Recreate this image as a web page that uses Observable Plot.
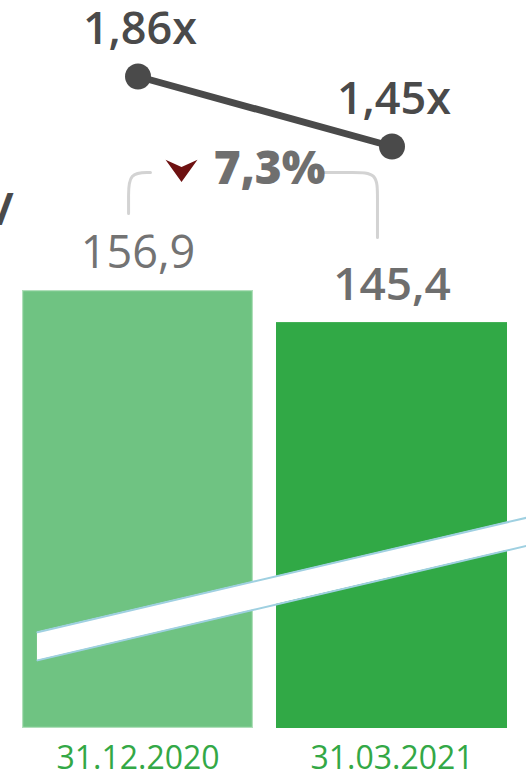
<!DOCTYPE html>
<html><head><meta charset="utf-8">
<script src="https://cdn.jsdelivr.net/npm/d3@7"></script>
<script src="https://cdn.jsdelivr.net/npm/@observablehq/plot@0.6"></script>
<style>
html,body{margin:0;padding:0;background:#fff;}
#chart{position:relative;width:526px;height:783px;overflow:hidden;background:#fff;}
#chart svg{position:absolute;left:0;top:0;}
</style></head><body><div id="chart"></div>
<script>
// ---- data ----
const dates = ["31.12.2020", "31.03.2021"];
const values = [156.9, 145.4];
const valueLabels = ["156,9", "145,4"];
const ratios = [1.86, 1.45];
const ratioLabels = ["1,86x", "1,45x"];
const changeLabels = ["7,3%"];
// axis-break band (period index, bar value units)
const breakT = [-0.397, 1.525];
const breakTop = [34.5, 75.5];
const breakBottom = [24.4, 65.4];
// change bracket (period index, bar value units)
const bracketLeftT = [-0.039, -0.039, -0.039, 0.047];
const bracketLeftV = [184.5, 190.6, 199.2, 199.2];
const bracketRightT = [0.723, 0.845, 0.939, 0.939, 0.939];
const bracketRightV = [199.2, 199.2, 199.2, 190.6, 175.9];
const markerT = [0.169];
const markerV = [199.7];
const labelT = [0.515];
const labelV = [195.2];
const clippedGlyph = ["/"];
const clippedT = [-0.49];
const clippedV = [180.2];

// ---- tables ----
const bars = dates.map((date, i) => ({date, value: values[i], label: valueLabels[i]}));
const ratioRows = dates.map((date, i) => ({date, ratio: ratios[i], label: ratioLabels[i]}));
const band = breakT.map((t, i) => ({t, top: breakTop[i], bottom: breakBottom[i]}));
const bracketL = bracketLeftT.map((t, i) => ({t, v: bracketLeftV[i]}));
const bracketR = bracketRightT.map((t, i) => ({t, v: bracketRightV[i]}));
const marker = markerT.map((t, i) => ({t, v: markerV[i]}));
const changeRow = changeLabels.map((label, i) => ({label, t: labelT[i], v: labelV[i]}));
const clipped = clippedGlyph.map((g, i) => ({g, t: clippedT[i], v: clippedV[i]}));

const W = 526, H = 783;
const font = "'Open Sans', sans-serif";
const baseStyle = {background: "transparent", fontFamily: font, overflow: "visible"};
const xBand = {type: "band", domain: dates, range: [22, 508], paddingInner: 0.09, paddingOuter: 0, axis: null};
const yValue = {domain: [0, 156.9], range: [728, 290], axis: null};
const xIndex = {type: "linear", domain: [0, 1], range: [138, 392.5], axis: null};

const chevron = {
  draw(ctx, size) {
    const s = Math.sqrt(size / Math.PI);
    ctx.moveTo(-s, -0.7 * s);
    ctx.lineTo(0, -0.25 * s);
    ctx.lineTo(s, -0.7 * s);
    ctx.lineTo(0, 0.68 * s);
    ctx.closePath();
  }
};

const barsPlot = Plot.plot({
  width: W, height: H, margin: 0, style: baseStyle,
  x: xBand, y: yValue,
  color: {domain: dates, range: ["#6fc382", "#31a946"]},
  marks: [
    Plot.barY(bars, {x: "date", y: "value", fill: "date"}),
    Plot.barY(bars, {filter: d => d.date === dates[0], x: "date", y: "value", fill: "none", stroke: "#b0dfba", strokeWidth: 1.2, inset: 0.6}),
    Plot.text(bars, {filter: d => d.date === dates[0], x: "date", y: "value", text: "label", dy: -23, lineAnchor: "bottom", fontSize: 45, fill: "#737373"}),
    Plot.text(bars, {filter: d => d.date === dates[1], x: "date", y: "value", text: "label", dy: -23, lineAnchor: "bottom", fontSize: 46, fontWeight: 600, fill: "#6e6e6e"}),
    Plot.text(bars, {x: "date", frameAnchor: "bottom", text: "date", dy: -15, lineAnchor: "bottom", fontSize: 32, fill: "#33a846"})
  ]
});

const annotPlot = Plot.plot({
  width: W, height: H, margin: 0, style: baseStyle,
  x: xIndex, y: yValue,
  marks: [
    Plot.areaY(band, {x: "t", y1: "bottom", y2: "top", fill: "#ffffff"}),
    Plot.line(band, {x: "t", y: "top", stroke: "#9fd0e1", strokeWidth: 2}),
    Plot.line(band, {x: "t", y: "bottom", stroke: "#9fd0e1", strokeWidth: 2}),
    Plot.line(bracketL, {x: "t", y: "v", curve: "basis", stroke: "#d3d3d3", strokeWidth: 3}),
    Plot.line(bracketR, {x: "t", y: "v", curve: "basis", stroke: "#d3d3d3", strokeWidth: 3}),
    Plot.dot(marker, {x: "t", y: "v", r: 16, symbol: chevron, fill: "#6e1111", stroke: "none"}),
    Plot.text(changeRow, {x: "t", y: "v", text: "label", lineAnchor: "bottom", fontSize: 46, fontWeight: 800, fill: "#6f6f6f"}),
    Plot.text(clipped, {x: "t", y: "v", text: "g", textAnchor: "end", lineAnchor: "bottom", fontSize: 44, fontWeight: 700, fill: "#4a4a4a"})
  ]
});

const linePlot = Plot.plot({
  width: W, height: H, margin: 0, style: baseStyle,
  x: xBand, y: {domain: [1.45, 1.86], range: [146, 76], axis: null},
  marks: [
    Plot.line(ratioRows, {x: "date", y: "ratio", stroke: "#4a4a4a", strokeWidth: 7}),
    Plot.dot(ratioRows, {x: "date", y: "ratio", r: 13, fill: "#4a4a4a", stroke: "none"}),
    Plot.text(ratioRows, {x: "date", y: "ratio", text: "label", dx: 2, dy: -33, lineAnchor: "bottom", fontSize: 45, fontWeight: 600, fill: "#4a4a4a"})
  ]
});

const chart = document.getElementById("chart");
chart.append(barsPlot, annotPlot, linePlot);
</script></body></html>
